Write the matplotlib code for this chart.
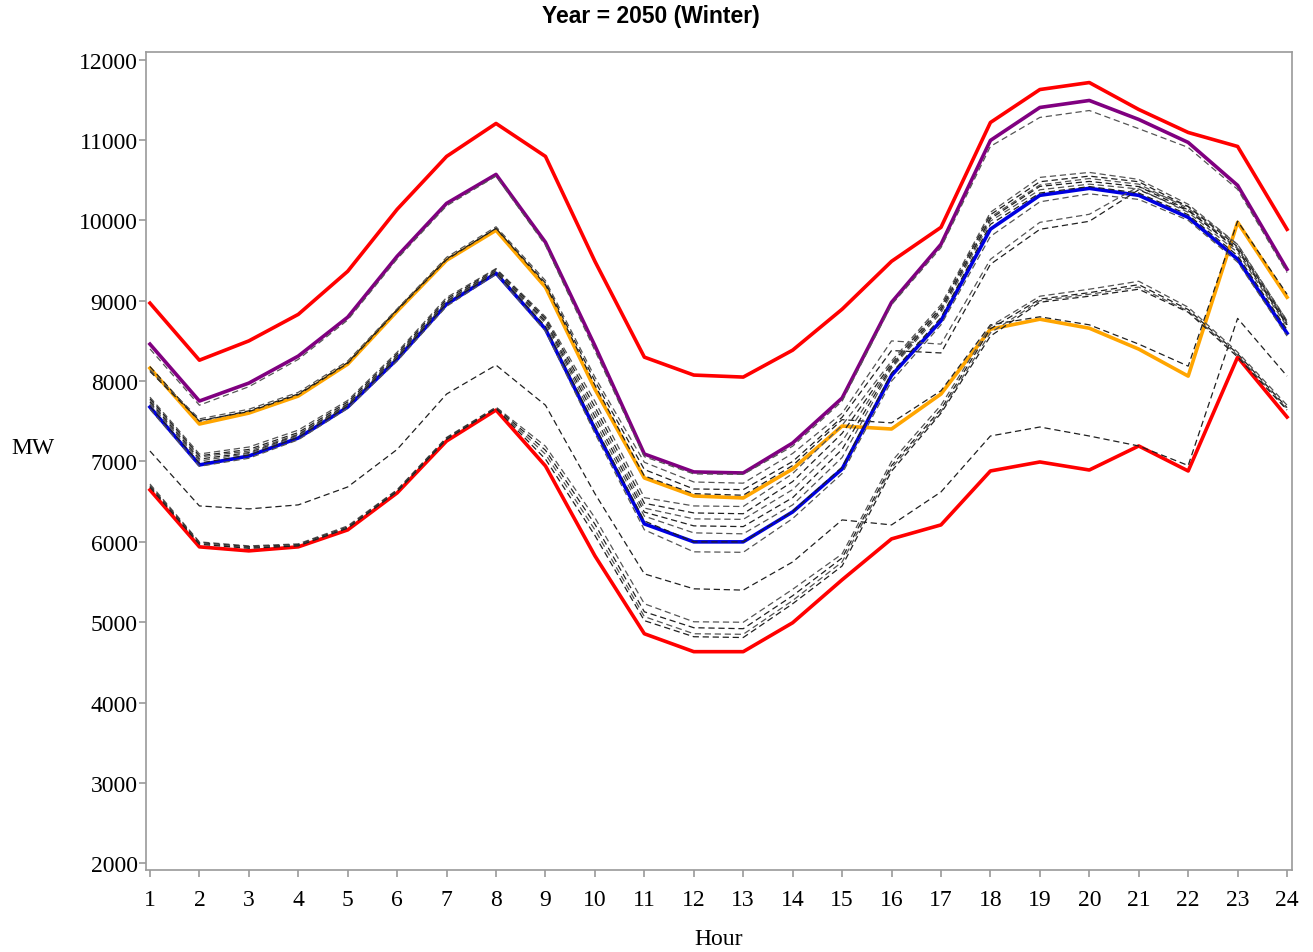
import matplotlib
matplotlib.use('Agg')
import matplotlib.pyplot as plt

# hours of the winter day
hours = list(range(1, 25))

# envelope and highlighted load profiles (MW)
env_high = [8970, 8260, 8500, 8830, 9366, 10137, 10795, 11205, 10795, 9490, 8298, 8075,
            8050, 8385, 8894, 9490, 9913, 11217, 11627, 11714, 11379, 11093, 10919, 9888]
env_low = [6646, 5938, 5888, 5938, 6149, 6609, 7255, 7640, 6944, 5826, 4857, 4634,
           4634, 4994, 5528, 6037, 6211, 6882, 6994, 6894, 7193, 6882, 8298, 7553]
purple_case = [8460, 7752, 7975, 8311, 8795, 9553, 10211, 10571, 9727, 8440, 7093, 6870,
               6857, 7230, 7789, 8980, 9702, 10994, 11404, 11491, 11255, 10969, 10435, 9391]
orange_case = [8161, 7466, 7602, 7814, 8211, 8870, 9503, 9876, 9168, 7900, 6795, 6571,
               6546, 6907, 7441, 7404, 7839, 8646, 8770, 8658, 8398, 8062, 9975, 9043]
blue_case = [7677, 6957, 7068, 7292, 7677, 8273, 8957, 9342, 8646, 7404, 6224, 6000,
             6000, 6373, 6907, 8070, 8750, 9890, 10311, 10398, 10311, 10037, 9516, 8596]

# remaining scenarios (dashed)
scen_a = [8400, 7700, 7930, 8270, 8760, 9520, 10180, 10550, 9690, 8380, 7060, 6845,
          6840, 7190, 7750, 8950, 9660, 10920, 11280, 11366, 11140, 10907, 10385, 9350]
scen_o = [8180, 7500, 7630, 7840, 8230, 8890, 9520, 9900, 9200, 7950, 6820, 6600,
          6580, 6950, 7520, 7480, 7880, 8700, 8800, 8700, 8460, 8186, 9990, 9080]
scen_d1 = [8140, 7530, 7650, 7860, 8250, 8900, 9540, 9920, 9250, 8050, 6990, 6745,
           6730, 7100, 7600, 8500, 8460, 9515, 9975, 10075, 10420, 10174, 9700, 8750]
scen_d2 = [8120, 7510, 7620, 7830, 8220, 8880, 9510, 9900, 9220, 8000, 6900, 6658,
           6650, 7000, 7550, 8380, 8350, 9453, 9888, 9988, 10380, 10120, 9650, 8700]
scen_c1 = [7800, 7093, 7180, 7390, 7760, 8360, 9040, 9400, 8800, 7750, 6550, 6447,
           6440, 6850, 7450, 8250, 8950, 10100, 10534, 10596, 10509, 10200, 9700, 8750]
scen_c2 = [7780, 7070, 7150, 7360, 7740, 8340, 9020, 9390, 8780, 7680, 6480, 6360,
           6350, 6750, 7350, 8220, 8920, 10070, 10480, 10550, 10480, 10170, 9670, 8730]
scen_c3 = [7760, 7056, 7130, 7340, 7720, 8320, 9000, 9380, 8760, 7620, 6420, 6286,
           6280, 6650, 7250, 8200, 8900, 10040, 10440, 10520, 10450, 10150, 9650, 8720]
scen_c4 = [7740, 7030, 7110, 7330, 7710, 8310, 8990, 9370, 8740, 7560, 6370, 6199,
           6190, 6550, 7150, 8180, 8880, 10020, 10422, 10484, 10420, 10130, 9630, 8700]
scen_c5 = [7720, 7006, 7100, 7320, 7700, 8300, 8980, 9360, 8720, 7500, 6320, 6112,
           6100, 6460, 7050, 8160, 8850, 9990, 10380, 10450, 10390, 10100, 9600, 8680]
scen_c6 = [7690, 6980, 7080, 7300, 7690, 8285, 8965, 9350, 8680, 7440, 6260, 6000,
           6000, 6380, 6930, 8100, 8790, 9950, 10340, 10420, 10340, 10070, 9560, 8640]
scen_c7 = [7650, 6940, 7040, 7270, 7660, 8250, 8930, 9330, 8620, 7350, 6150, 5876,
           5870, 6290, 6850, 8000, 8700, 9800, 10230, 10330, 10260, 10000, 9480, 8560]
scen_l = [7130, 6447, 6410, 6460, 6683, 7150, 7839, 8199, 7700, 6600, 5602, 5416,
          5400, 5750, 6273, 6211, 6621, 7317, 7429, 7317, 7193, 6950, 8780, 8062]
scen_e1 = [6720, 6000, 5950, 5975, 6199, 6650, 7300, 7677, 7190, 6300, 5230, 5006,
           5000, 5410, 5850, 7000, 7700, 8683, 9056, 9143, 9242, 8919, 8360, 7700]
scen_e2 = [6700, 5990, 5940, 5965, 6185, 6640, 7290, 7670, 7140, 6220, 5130, 4932,
           4920, 5330, 5800, 6950, 7650, 8650, 9020, 9100, 9200, 8890, 8340, 7670]
scen_e3 = [6690, 5980, 5930, 5955, 6175, 6630, 7280, 7665, 7090, 6150, 5070, 4857,
           4850, 5270, 5750, 6920, 7620, 8600, 9000, 9080, 9170, 8870, 8320, 7652]
scen_e4 = [6680, 5970, 5920, 5950, 6170, 6625, 7275, 7660, 7030, 6080, 5020, 4820,
           4810, 5230, 5700, 6880, 7600, 8559, 8981, 9056, 9143, 8857, 8300, 7640]

dashed = [scen_a, scen_o, scen_d1, scen_d2, scen_c1, scen_c2, scen_c3, scen_c4, scen_c5,
          scen_c6, scen_c7, scen_l, scen_e1, scen_e2, scen_e3, scen_e4]

serif = 'Liberation Serif'
frame_grey = '#9a9a9a'

fig = plt.figure(figsize=(13.13, 9.53), dpi=100)
ax = fig.add_axes([146 / 1313, 1 - 871 / 953, 1146 / 1313, 818 / 953])

# solid highlighted profiles first, dashed scenarios drawn over them
ax.plot(hours, env_high, color='#ff0000', lw=2.6)
ax.plot(hours, purple_case, color='#800080', lw=2.6)
ax.plot(hours, orange_case, color='#ffa500', lw=2.6)
ax.plot(hours, blue_case, color='#0000e0', lw=2.6)
ax.plot(hours, env_low, color='#ff0000', lw=2.6)

for i, series in enumerate(dashed):
    shade = '#202020' if i % 2 else '#555555'
    ax.plot(hours, series, color=shade, lw=0.9, dashes=(5, 3))

ax.set_xlim(0.92, 24.1)
ax.set_ylim(1918, 12094)
ax.set_xticks(hours)
ax.set_yticks(range(2000, 12001, 1000))

for side in ['left', 'right', 'top', 'bottom']:
    ax.spines[side].set_color(frame_grey)
    ax.spines[side].set_linewidth(1.2)

ax.tick_params(axis='both', colors=frame_grey, length=5, width=1.2, labelcolor='black',
               labelsize=17)
ax.tick_params(axis='x', pad=9)
ax.tick_params(axis='y', pad=1)
for lab in ax.get_xticklabels() + ax.get_yticklabels():
    lab.set_fontfamily(serif)

ax.set_xlabel('Hour', fontsize=17, fontfamily=serif, va='center')
ax.xaxis.set_label_coords(0.5, (871 - 940) / 818)
ax.set_ylabel('MW', fontsize=17, fontfamily=serif, rotation=0, ha='center', va='center')
ax.yaxis.set_label_coords((33 - 146) / 1146, (871 - 449) / 818)

fig.text(651 / 1313, 1 - 16 / 953, 'Year = 2050 (Winter)', ha='center', va='center',
         fontsize=16.5, fontweight='bold', fontfamily='Liberation Sans')

fig.savefig('out.png', dpi=100)
